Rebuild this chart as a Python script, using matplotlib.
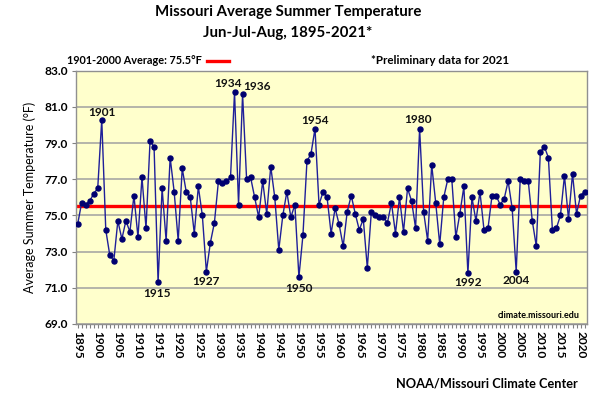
import matplotlib
matplotlib.use("Agg")
import matplotlib.pyplot as plt
import numpy as np

plt.rcParams['font.family'] = ['Lato', 'DejaVu Sans']

years = list(range(1895, 2022))
temps = [
    74.5, 75.7, 75.6, 75.8, 76.2, 76.5, 80.3, 74.2, 72.8, 72.5,   # 1895-1904
    74.7, 73.7, 74.7, 74.1, 76.1, 73.8, 77.1, 74.3, 79.1, 78.8,   # 1905-1914
    71.3, 76.5, 73.6, 78.2, 76.3, 73.6, 77.6, 76.3, 76.0, 74.0,   # 1915-1924
    76.6, 75.0, 71.9, 73.5, 74.6, 76.9, 76.8, 76.9, 77.1, 81.8,   # 1925-1934
    75.6, 81.7, 77.0, 77.1, 76.0, 74.9, 76.9, 75.1, 77.7, 76.0,   # 1935-1944
    73.1, 75.0, 76.3, 74.9, 75.6, 71.6, 73.9, 78.0, 78.4, 79.8,   # 1945-1954
    75.6, 76.3, 76.0, 74.0, 75.4, 74.5, 73.3, 75.2, 76.1, 75.1,   # 1955-1964
    74.2, 74.8, 72.1, 75.2, 75.0, 74.9, 74.9, 74.6, 75.7, 74.0,   # 1965-1974
    76.0, 74.1, 76.5, 75.8, 74.3, 79.8, 75.2, 73.6, 77.8, 75.7,   # 1975-1984
    73.4, 76.0, 77.0, 77.0, 73.8, 75.1, 76.6, 71.8, 76.0, 74.7,   # 1985-1994
    76.3, 74.2, 74.3, 76.1, 76.1, 75.6, 75.9, 76.9, 75.4, 71.9,   # 1995-2004
    77.0, 76.9, 76.9, 74.7, 73.3, 78.5, 78.8, 78.2, 74.2, 74.3,   # 2005-2014
    75.0, 77.2, 74.8, 77.3, 75.1, 76.1, 76.3,                     # 2015-2021
]
average = 75.5
labeled_years = [1901, 1915, 1927, 1934, 1936, 1950, 1954, 1980, 1992, 2004]
# pixel offsets of label centres relative to points
label_offsets = {1901: (0, 7), 1915: (-1, -11), 1927: (0, -10), 1934: (-7, 9),
                 1936: (14, 8), 1950: (0, -12), 1954: (0, 8), 1980: (-2, 9),
                 1992: (0, -9), 2004: (0, -9)}
yticks = [69.0, 71.0, 73.0, 75.0, 77.0, 79.0, 81.0, 83.0]
xtick_years = list(range(1895, 2021, 5))

fig = plt.figure(figsize=(6.0, 3.95), dpi=100)
ax = fig.add_axes([76/600, 1-324/395, (587-76)/600, (324-70.7)/395])
ax.set_facecolor('#FFFFCC')

for y in yticks:
    ax.axhline(y, color='#A0A0A0', lw=1.1, zorder=1)

ax.axhline(average, color='#FF0000', lw=2.4, zorder=2)
ax.plot(years, temps, color='#1F1F99', lw=1.0, marker='o', markersize=3.6,
        markerfacecolor='#000070', markeredgecolor='#000070', zorder=3)

for yr in labeled_years:
    v = temps[years.index(yr)]
    dx, dy = label_offsets[yr]
    ax.annotate(str(yr), (yr, v), xytext=(dx, dy), textcoords='offset pixels',
                ha='center', va='center', fontsize=8.6, fontweight='bold',
                color='#111111', zorder=4)

ax.set_xlim(1894.6, 2021.6)
ax.set_ylim(69.0, 83.0)
ax.set_yticks(yticks)
ax.set_yticklabels([f"{t:.1f}" for t in yticks], fontsize=8.6, fontweight='bold')
ax.set_xticks(xtick_years)
ax.set_xticklabels([str(y) for y in xtick_years], rotation=270, fontsize=8.6,
                   fontweight='bold')
ax.set_xticks(years, minor=True)
ax.tick_params(axis='x', which='both', length=3, width=0.8, color='#808080', pad=2)
ax.tick_params(axis='y', which='both', length=3, width=0.8, color='#808080', pad=3)
for s in ax.spines.values():
    s.set_color('#909090')
    s.set_linewidth(1.0)

ax.set_ylabel('Average Summer Temperature (°F)', fontsize=9, labelpad=6)

fig.text(0.48, 1-12/395, 'Missouri Average Summer Temperature', ha='center',
         va='center', fontsize=10.8, fontweight='bold')
fig.text(0.48, 1-33/395, 'Jun-Jul-Aug, 1895-2021*', ha='center', va='center',
         fontsize=10.8, fontweight='bold')
leg_txt = fig.text(67/600, 1-61/395, '1901-2000 Average: 75.5°F', ha='left',
                   va='center', fontsize=7.8, fontweight='bold')
fig.canvas.draw()
bb = leg_txt.get_window_extent(renderer=fig.canvas.get_renderer())
x0 = max(198.0, bb.x1 + 5)
fig.add_artist(plt.Line2D([x0/600, (x0+22)/600], [1-61/395, 1-61/395],
                          color='#FF0000', lw=2.4, transform=fig.transFigure))
fig.text(509/600, 1-61/395, '*Preliminary data for 2021', ha='right', va='center',
         fontsize=8.4, fontweight='bold')
fig.text(578/600, 1-383/395, 'NOAA/Missouri Climate Center', ha='right', va='center',
         fontsize=9.2, fontweight='bold')
ax.text(0.985, 0.035, 'climate.missouri.edu', transform=ax.transAxes, ha='right',
        va='center', fontsize=6.5, fontweight='bold')

fig.savefig('out.png', dpi=100)
